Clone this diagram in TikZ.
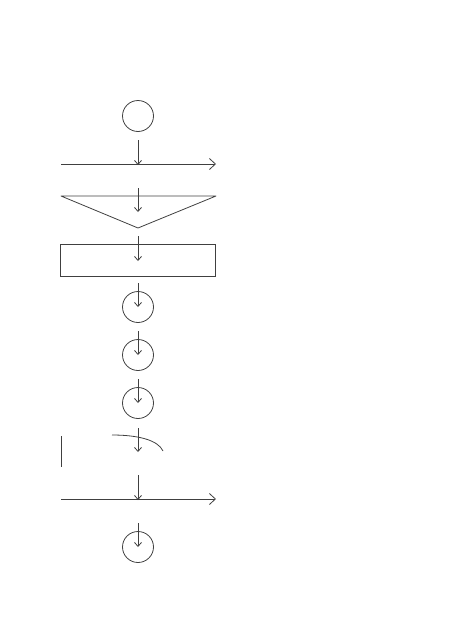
\documentclass[tikz,border=0pt]{standalone}
\usepackage{tikz}
\usetikzlibrary{arrows.meta}

\begin{document}
\begin{tikzpicture}[x=1pt, y=-1pt,
  ln/.style = {draw=black!75, line width=.8pt},
  dn/.style = {ln, -{Straight Barb[length=4pt, width=7pt]}},
  fw/.style = {ln, -{Straight Barb[length=6pt, width=11pt]}},
  dot/.style = {circle, ln, minimum size=31pt, inner sep=0pt}]
\useasboundingbox (0,0) rectangle (474,632);
% circles and box
\node[dot](c1) at (138,116){};
\node[rectangle, ln, minimum width=155pt, minimum height=32pt, inner sep=0pt](b1) at (138,260){};
\node[dot](c2) at (138,307){};
\node[dot](c3) at (138,355){};
\node[dot](c4) at (138,403){};
\node[dot](c5) at (138,547){};
% free ends
\coordinate (h1) at (61,164); \coordinate (h2) at (216,164);
\coordinate (h3) at (61,499); \coordinate (h4) at (216,499);
\coordinate (t1) at (61,196); \coordinate (t2) at (216,196); \coordinate (t3) at (138,228);
\coordinate (k1) at (112,435); \coordinate (k2) at (163,451);
\coordinate (v1) at (61,436); \coordinate (v2) at (61,467);
\coordinate (s1) at (138,140); \coordinate (e1) at (138,165);
\coordinate (s2) at (138,188); \coordinate (e2) at (138,212);
\coordinate (s3) at (138,236); \coordinate (e3) at (138,261);
\coordinate (s4) at (138,283);
\coordinate (s5) at (138,331);
\coordinate (s6) at (138,379);
\coordinate (s7) at (138,428); \coordinate (e7) at (138,452);
\coordinate (s8) at (138,475); \coordinate (e8) at (138,500);
\coordinate (s9) at (138,523);
% lines
\draw[fw] (h1) -- (h2);
\draw[fw] (h3) -- (h4);
\draw[ln, line join=round] (t1) -- (t2) -- (t3) -- cycle;
\draw[ln] (k1) .. controls (138,435) and (158,440) .. (k2);
\draw[ln] (v1) -- (v2);
% arrows
\draw[dn] (s1) -- (e1);
\draw[dn] (s2) -- (e2);
\draw[dn] (s3) -- (e3);
\draw[dn] (s4) -- (c2.center);
\draw[dn] (s5) -- (c3.center);
\draw[dn] (s6) -- (c4.center);
\draw[dn] (s7) -- (e7);
\draw[dn] (s8) -- (e8);
\draw[dn] (s9) -- (c5.center);
\end{tikzpicture}
\end{document}
